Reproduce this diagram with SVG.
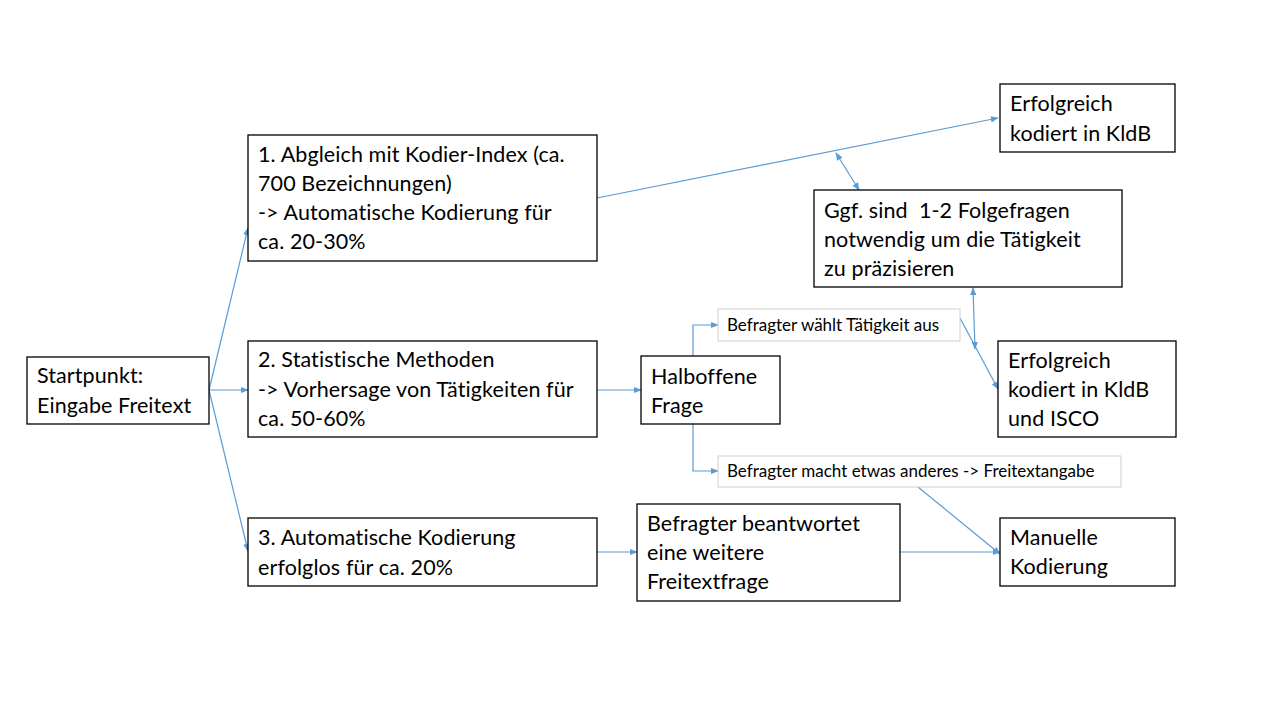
<svg xmlns="http://www.w3.org/2000/svg" width="1280" height="720" viewBox="0 0 1280 720">
<style>
.box{fill:#fff;stroke:#000;stroke-width:1.3}
.lbl{fill:#fff;stroke:#d0d0d0;stroke-width:1}
.t{font-family:Lato,"Liberation Sans",sans-serif;font-size:21.5px;letter-spacing:0.1px;fill:#000}
.s{font-family:Lato,"Liberation Sans",sans-serif;font-size:17px;fill:#000}
.c{fill:none;stroke:#5b9bd5;stroke-width:1.2}
</style>
<defs>
<marker id="ah" viewBox="0 0 10 10" refX="9" refY="5" markerWidth="8" markerHeight="8" orient="auto-start-reverse" markerUnits="userSpaceOnUse">
<path d="M0,1 L10,5 L0,9 z" fill="#5b9bd5"/>
</marker>
</defs>
<rect width="1280" height="720" fill="#fff"/>
<g id="connectors">
<line class="c" x1="209" y1="390" x2="248" y2="228" marker-end="url(#ah)"/>
<line class="c" x1="209" y1="390" x2="248" y2="390" marker-end="url(#ah)"/>
<line class="c" x1="209" y1="390" x2="248" y2="551" marker-end="url(#ah)"/>
<line class="c" x1="597" y1="198" x2="998" y2="118" marker-end="url(#ah)"/>
<line class="c" x1="836" y1="153" x2="859" y2="190" marker-start="url(#ah)" marker-end="url(#ah)"/>
<line class="c" x1="973" y1="288" x2="975" y2="349" marker-start="url(#ah)" marker-end="url(#ah)"/>
<line class="c" x1="960" y1="318" x2="998" y2="389" marker-end="url(#ah)"/>
<line class="c" x1="597" y1="390" x2="641" y2="390" marker-end="url(#ah)"/>
<polyline class="c" points="693,356 693,325 718,325" marker-end="url(#ah)"/>
<polyline class="c" points="693,424 693,471 718,471" marker-end="url(#ah)"/>
<line class="c" x1="918" y1="487" x2="1000" y2="554" marker-end="url(#ah)"/>
<line class="c" x1="597" y1="552" x2="637" y2="552" marker-end="url(#ah)"/>
<line class="c" x1="900" y1="552" x2="1000" y2="552" marker-end="url(#ah)"/>
</g>
<g id="start">
<rect class="box" x="27" y="357" width="182" height="67"/>
<text class="t" x="37" y="383">Startpunkt:</text>
<text class="t" x="37" y="413">Eingabe Freitext</text>
</g>
<g id="box1">
<rect class="box" x="248" y="135" width="349" height="126"/>
<text class="t" x="258" y="162">1. Abgleich mit Kodier-Index (ca.</text>
<text class="t" x="258" y="191">700 Bezeichnungen)</text>
<text class="t" x="258" y="220">-&gt; Automatische Kodierung für</text>
<text class="t" x="258" y="249">ca. 20-30%</text>
</g>
<g id="box2">
<rect class="box" x="248" y="341" width="349" height="96"/>
<text class="t" x="258" y="367">2. Statistische Methoden</text>
<text class="t" x="258" y="397">-&gt; Vorhersage von Tätigkeiten für</text>
<text class="t" x="258" y="426">ca. 50-60%</text>
</g>
<g id="box3">
<rect class="box" x="248" y="518" width="349" height="68"/>
<text class="t" x="258" y="545">3. Automatische Kodierung</text>
<text class="t" x="258" y="575">erfolglos für ca. 20%</text>
</g>
<g id="halboffen">
<rect class="box" x="641" y="356" width="139" height="68"/>
<text class="t" x="651" y="384">Halboffene</text>
<text class="t" x="651" y="413">Frage</text>
</g>
<g id="weitere">
<rect class="box" x="637" y="504" width="263" height="97"/>
<text class="t" x="647" y="531">Befragter beantwortet</text>
<text class="t" x="647" y="560">eine weitere</text>
<text class="t" x="647" y="589">Freitextfrage</text>
</g>
<g id="kldb">
<rect class="box" x="1000" y="84" width="175" height="68"/>
<text class="t" x="1010" y="111">Erfolgreich</text>
<text class="t" x="1010" y="141">kodiert in KldB</text>
</g>
<g id="folgefragen">
<rect class="box" x="814" y="190" width="308" height="97"/>
<text class="t" x="824" y="218">Ggf. sind &#160;1-2 Folgefragen</text>
<text class="t" x="824" y="247">notwendig um die Tätigkeit</text>
<text class="t" x="824" y="276">zu präzisieren</text>
</g>
<g id="isco">
<rect class="box" x="998" y="341" width="178" height="96"/>
<text class="t" x="1008" y="368">Erfolgreich</text>
<text class="t" x="1008" y="397">kodiert in KldB</text>
<text class="t" x="1008" y="426">und ISCO</text>
</g>
<g id="manuell">
<rect class="box" x="1000" y="518" width="175" height="68"/>
<text class="t" x="1010" y="545">Manuelle</text>
<text class="t" x="1010" y="574">Kodierung</text>
</g>
<g id="label-waehlt">
<rect class="lbl" x="718" y="309" width="242" height="32"/>
<text class="s" x="727" y="331">Befragter wählt Tätigkeit aus</text>
</g>
<g id="label-anderes">
<rect class="lbl" x="718" y="456" width="403" height="31"/>
<text class="s" x="727" y="477">Befragter macht etwas anderes -&gt; Freitextangabe</text>
</g>
</svg>
